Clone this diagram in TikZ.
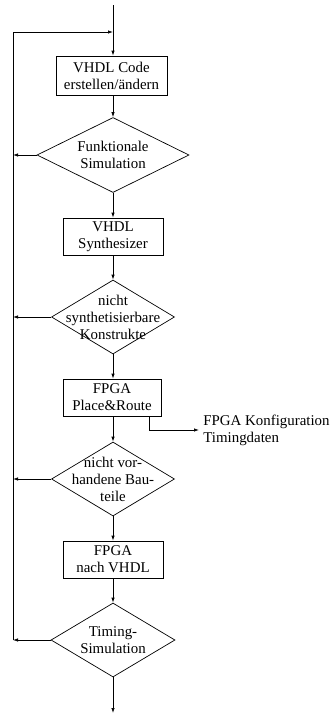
\documentclass[tikz,border=0pt]{standalone}
\usepackage{fontspec}
\setmainfont{Liberation Serif}
\usetikzlibrary{shapes.geometric,arrows.meta}
\begin{document}
\begin{tikzpicture}[x=1pt,y=-1pt,
  every node/.style={font=\fontsize{14.9}{17}\selectfont},
  box/.style={draw,rectangle,minimum width=100pt,minimum height=37pt,inner sep=0pt,align=center},
  dia/.style={draw,diamond,inner sep=0pt,minimum height=74pt},
  txt/.style={align=center,inner sep=0pt},
  arr/.style={-{Latex[length=5pt,width=3.4pt]}},
  line width=0.7pt]
\useasboundingbox (0,0) rectangle (333,715);
\coordinate (top) at (113,5);
\coordinate (j) at (113,32);
\coordinate (Ltop) at (13,32);
\node[box,minimum width=111pt,minimum height=39pt] (b1) at (111.5,75.5) {VHDL Code\\erstellen/ändern};
\node[dia,minimum width=152pt,minimum height=75pt] (d1) at (113,155) {};
\node[txt] at (d1) {Funktionale\\Simulation};
\node[box] (b2) at (113,236.5) {VHDL\\Synthesizer};
\node[dia,minimum width=123pt] (d2) at (113,317) {};
\node[txt] at (d2) {nicht\\synthetisierbare\\Konstrukte};
\node[box,minimum width=98pt] (b3) at (112,397.5) {FPGA\\Place\&Route};
\node[dia,minimum width=123pt] (d3) at (113,479) {};
\node[txt] at (d3) {nicht vor-\\handene Bau-\\teile};
\node[box] (b4) at (113,559.5) {FPGA\\nach VHDL};
\node[dia,minimum width=124pt] (d4) at (113,640) {};
\node[txt] at (d4) {Timing-\\Simulation};
\coordinate (bot) at (113,713);
\node[anchor=west,align=left,inner sep=0pt] (out) at (203,430) {FPGA Konfiguration\\Timingdaten};
\coordinate (o) at (149,430);
% main flow
\draw (top) -- (j);
\draw[arr] (j) -- (j |- b1.north);
\draw[arr] (b1.south -| d1.north) -- (d1.north);
\draw[arr] (d1.south) -- (b2.north);
\draw[arr] (b2.south) -- (d2.north);
\draw[arr] (d2.south) -- (d2.south |- b3.north);
\draw[arr] (b3.south -| d3.north) -- (d3.north);
\draw[arr] (d3.south) -- (b4.north);
\draw[arr] (b4.south) -- (d4.north);
\draw[arr] (d4.south) -- (bot);
% output
\draw[arr] (b3.south -| o) -- (o) -- ([xshift=-4pt]out.west);
% feedback
\draw[arr] (d1.west) -- (d1.west -| Ltop);
\draw[arr] (d2.west) -- (d2.west -| Ltop);
\draw[arr] (d3.west) -- (d3.west -| Ltop);
\draw[arr] (d4.west) -- (d4.west -| Ltop);
\draw[arr] (d4.west -| Ltop) -- (Ltop) -- (j);
\end{tikzpicture}
\end{document}
